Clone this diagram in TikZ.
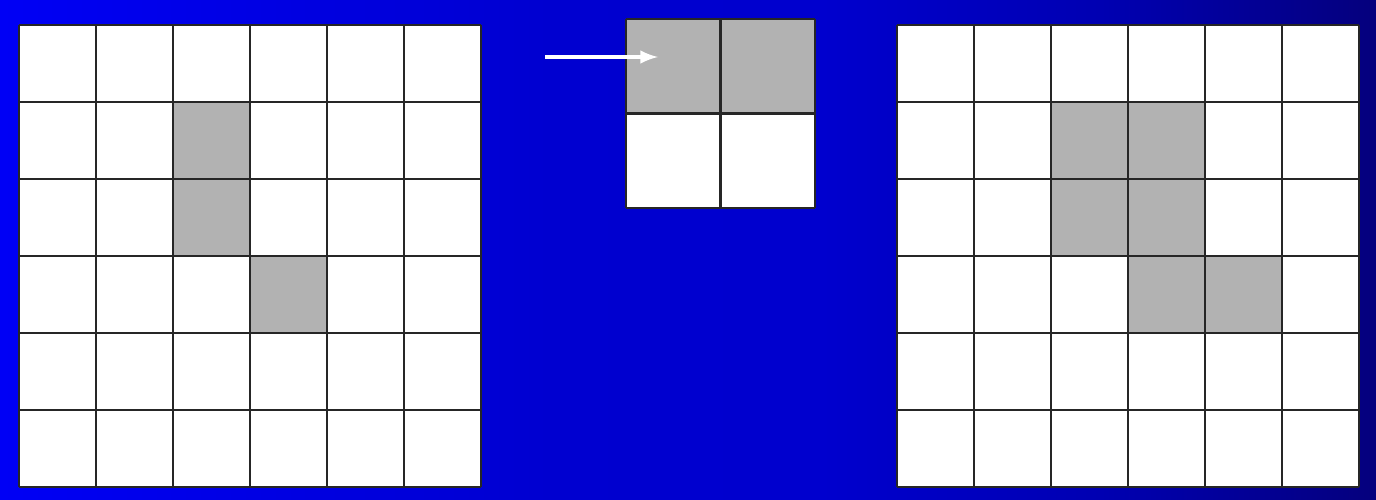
\documentclass[tikz,border=0pt]{standalone}
\tikzset{>=latex}
\usetikzlibrary{calc}
\definecolor{slideblue}{RGB}{0,0,245}
\definecolor{slidemid}{RGB}{0,0,208}
\definecolor{slidedeep}{RGB}{0,0,178}
\definecolor{slidenavy}{RGB}{5,0,125}
\definecolor{cellgray}{RGB}{178,178,178}
% path box maps onto 25bp..75bp
\pgfdeclarehorizontalshading{slidebg}{100bp}{color(0bp)=(slideblue); color(25bp)=(slideblue); color(45bp)=(slidemid); color(55bp)=(slidemid!92!slidedeep); color(65bp)=(slidedeep); color(75bp)=(slidenavy); color(100bp)=(slidenavy)}

\begin{document}
\begin{tikzpicture}[x=0.02cm,y=-0.02cm,
    gridline/.style={draw=black!85,line width=1.6pt},
    marked/.style={fill=cellgray}]
  \useasboundingbox (0,0) rectangle (1376,500);
  \shade[shading=slidebg] (0,0) rectangle (1376,500);
  \pgfmathsetmacro{\cw}{77}
  \pgfmathsetmacro{\sw}{94.5}
  % input image
  \begin{scope}[shift={(19,25)}]
    \fill[white] (0,0) rectangle (6*\cw,6*\cw);
    \foreach \c/\r in {2/1,2/2,3/3}
      \fill[marked] (\c*\cw,\r*\cw) rectangle ++(\cw,\cw);
    \foreach \i in {0,...,6} {
      \draw[gridline] (\i*\cw,0) -- (\i*\cw,6*\cw);
      \draw[gridline] (0,\i*\cw) -- (6*\cw,\i*\cw);
    }
  \end{scope}
  % structuring element
  \begin{scope}[shift={(626,19)}]
    \fill[white] (0,0) rectangle (2*\sw,2*\sw);
    \fill[marked] (0,0) rectangle (2*\sw,\sw);
    \foreach \i in {0,1,2} {
      \draw[gridline] (\i*\sw,0) -- (\i*\sw,2*\sw);
      \draw[gridline] (0,\i*\sw) -- (2*\sw,\i*\sw);
    }
  \end{scope}
  \coordinate (origin) at (658,57);
  \coordinate (tail) at (545,57);
  \draw[->,white,line width=2.4pt] (tail) -- (origin);
  % dilated image
  \begin{scope}[shift={(897,25)}]
    \fill[white] (0,0) rectangle (6*\cw,6*\cw);
    \foreach \c/\r in {2/1,3/1,2/2,3/2,3/3,4/3}
      \fill[marked] (\c*\cw,\r*\cw) rectangle ++(\cw,\cw);
    \foreach \i in {0,...,6} {
      \draw[gridline] (\i*\cw,0) -- (\i*\cw,6*\cw);
      \draw[gridline] (0,\i*\cw) -- (6*\cw,\i*\cw);
    }
  \end{scope}
\end{tikzpicture}
\end{document}
